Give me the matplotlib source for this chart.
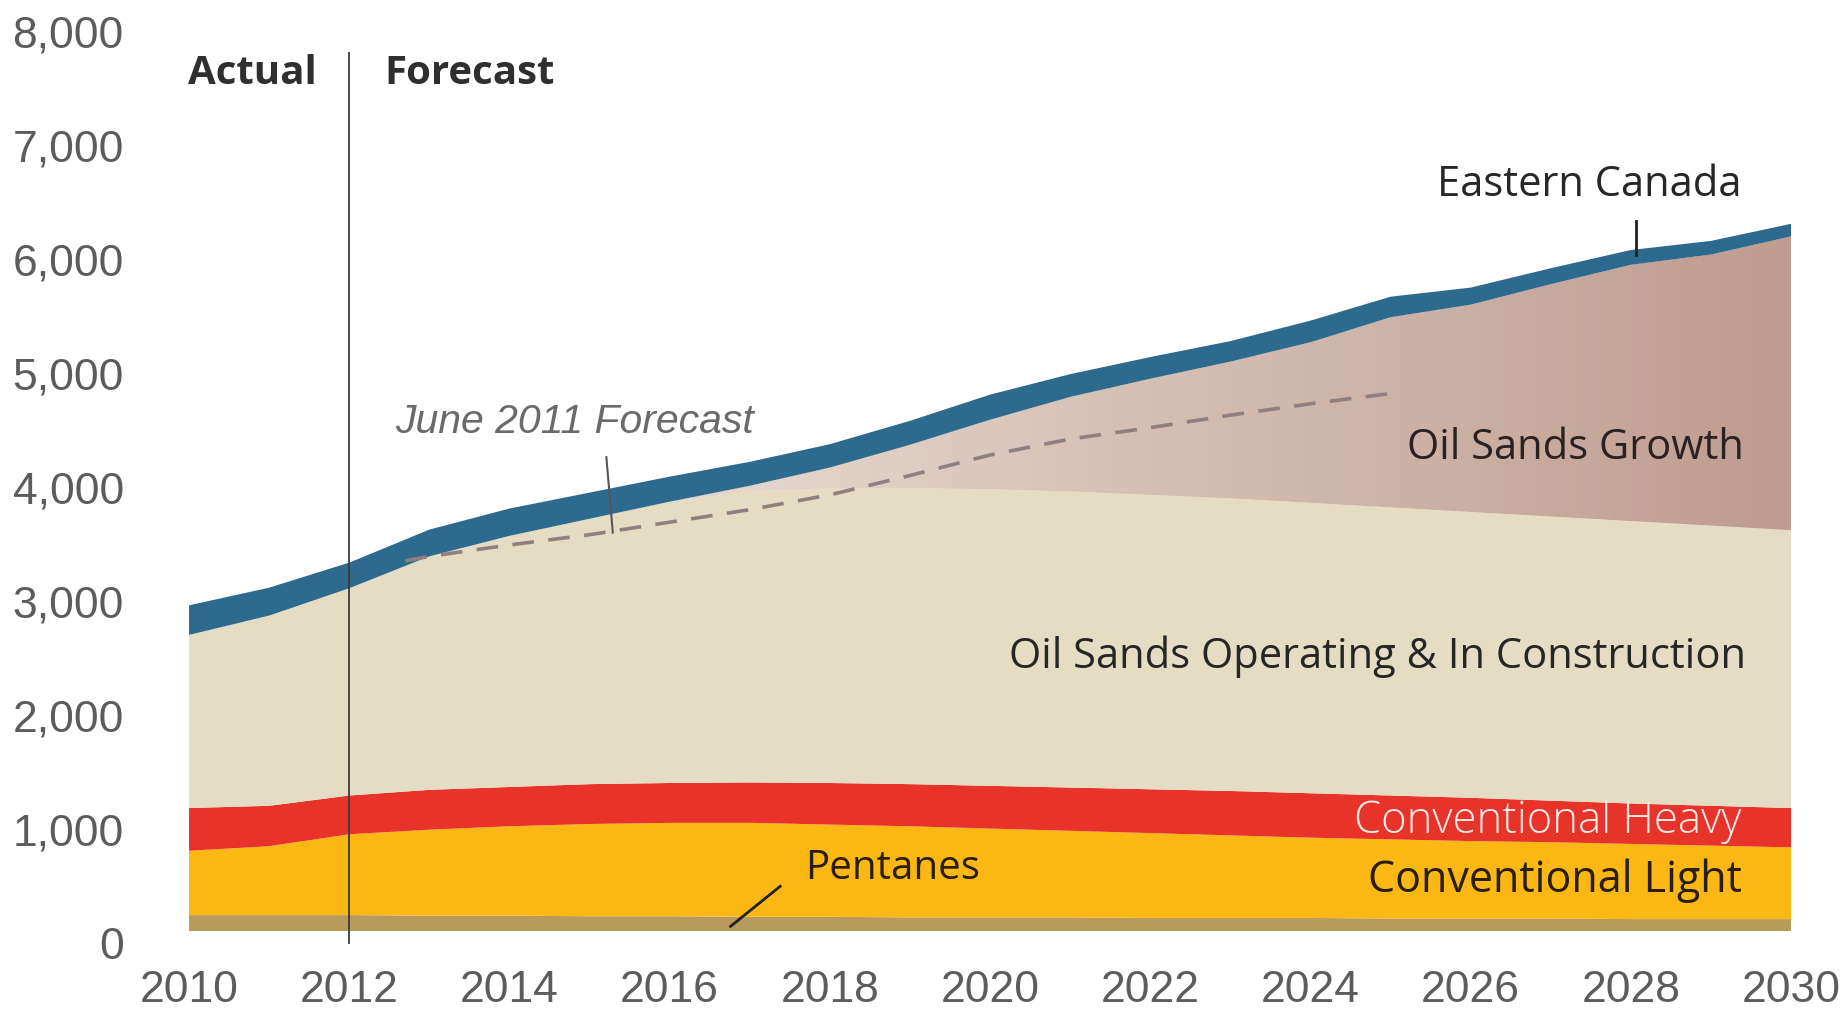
import numpy as np
import matplotlib.pyplot as plt
from matplotlib.transforms import ScaledTranslation
from matplotlib.colors import LinearSegmentedColormap

# Canadian crude oil production forecast (thousand b/d)
years = np.arange(2010, 2031)
pentanes = [140, 140, 140, 135, 135, 130, 130, 125, 125, 120, 120, 120, 115, 115, 115, 110, 110, 110, 105, 105, 105]
conv_light = [565, 605, 710, 755, 785, 810, 820, 825, 810, 800, 780, 760, 745, 725, 705, 695, 680, 670, 660, 645, 630]
conv_heavy = [375, 355, 340, 350, 345, 350, 350, 355, 365, 370, 375, 380, 385, 390, 390, 385, 380, 365, 355, 350, 345]
os_operating = [1520, 1670, 1820, 2050, 2205, 2330, 2470, 2555, 2590, 2600, 2605, 2600, 2585, 2570, 2550, 2530, 2510, 2495, 2480, 2460, 2440]
os_growth = [0, 0, 0, 0, 0, 0, 0, 50, 180, 380, 610, 830, 1020, 1200, 1410, 1670, 1820, 2040, 2250, 2380, 2580]
eastern = [260, 245, 225, 235, 240, 230, 220, 210, 205, 210, 220, 200, 190, 180, 190, 180, 150, 140, 130, 120, 110]

# June 2011 forecast (dashed)
june_years = [2012.7, 2013, 2014, 2015, 2016, 2017, 2018, 2019, 2020, 2021, 2022, 2023, 2024, 2025]
june_vals = [3250, 3290, 3390, 3480, 3590, 3700, 3830, 4000, 4180, 4320, 4420, 4530, 4630, 4720]

xticks = np.arange(2010, 2031, 2)
yticks = np.arange(0, 8001, 1000)

col_pent = '#B79A5C'
col_light = '#FBB714'
col_heavy = '#E8332B'
col_oper = '#E5DDC3'
col_east = '#2E6A8D'

fig = plt.figure(figsize=(18.48, 10.13), dpi=100)
ax = fig.add_axes([0.1023, 0.0809, 0.8669, 0.8994])

polys = ax.stackplot(years, pentanes, conv_light, conv_heavy, os_operating, os_growth, eastern,
                     colors=[col_pent, col_light, col_heavy, col_oper, col_oper, col_east],
                     linewidth=0, zorder=1)

# growth area: left-to-right pink/mauve gradient clipped to its polygon
cmap = LinearSegmentedColormap.from_list('growth', [(0, '#E4DACB'), (0.35, '#E3D6CC'),
                                                   (0.55, '#D8C3B9'), (0.8, '#CAAFA3'), (1, '#BF9C8F')])
grad = ax.imshow(np.linspace(0, 1, 256)[None, :], cmap=cmap, aspect='auto',
                 extent=(2010, 2030, 0, 8000), zorder=2, interpolation='bilinear')
grad.set_clip_path(polys[4].get_paths()[0], transform=ax.transData)
polys[5].set_zorder(3)

ax.plot(june_years, june_vals, color='#8E8080', lw=2.6, dashes=(6, 4), zorder=4)

ax.set_xlim(2010, 2030)
ax.set_ylim(0, 8000)
for s in ax.spines.values():
    s.set_visible(False)
ax.set_xticks(xticks)
ax.set_yticks(yticks)
ax.set_yticklabels(['{:,}'.format(v) for v in yticks])
ax.tick_params(axis='both', length=0, colors='#5c5c5c')
ax.tick_params(axis='y', pad=47)
ax.tick_params(axis='x', pad=28)
for lab in ax.get_xticklabels() + ax.get_yticklabels():
    lab.set_family('Liberation Sans')
    lab.set_fontsize(32)
shift = ScaledTranslation(0, -0.12, fig.dpi_scale_trans)
for lab in ax.get_yticklabels():
    lab.set_transform(lab.get_transform() + shift)

# actual / forecast divider
ax.plot([2012, 2012], [7712, -103], color='#3a3a3a', lw=1.3, clip_on=False, zorder=5)
lab_font = 'Open Sans'
ax.text(2011.6, 7530, 'Actual', ha='right', va='center', fontsize=29, fontweight='bold',
        family=lab_font, color='#2f2f2f')
ax.text(2012.44, 7530, 'Forecast', ha='left', va='center', fontsize=29, fontweight='bold',
        family=lab_font, color='#2f2f2f')

ax.text(2012.57, 4472, 'June 2011 Forecast', ha='left', va='center', fontsize=29.5, style='italic',
        family='Liberation Sans', color='#6a6a6a')
ax.plot([2015.21, 2015.29], [4161, 3499], color='#555555', lw=1.5, zorder=5)

ax.text(2029.38, 6553, 'Eastern Canada', ha='right', va='center', fontsize=30,
        family=lab_font, color='#262626')
ax.plot([2028.06, 2028.06], [6232, 5932], color='#222222', lw=2, zorder=5)

ax.text(2029.41, 4244, 'Oil Sands Growth', ha='right', va='center', fontsize=30,
        family=lab_font, color='#2a2222')
ax.text(2029.44, 2412, 'Oil Sands Operating & In Construction', ha='right', va='center',
        fontsize=30, family=lab_font, color='#262626')
ax.text(2029.38, 963, 'Conventional Heavy', ha='right', va='center', fontsize=31.5,
        fontweight='light', family=lab_font, color='#FBE9E3')
ax.text(2029.38, 445, 'Conventional Light', ha='right', va='center', fontsize=31,
        family=lab_font, color='#2a1e10')
ax.text(2017.69, 549, 'Pentanes', ha='left', va='center', fontsize=29,
        family=lab_font, color='#2a1e10')
ax.plot([2017.38, 2016.76], [393, 41], color='#222222', lw=2, zorder=5)

fig.savefig('out.png', dpi=100, facecolor='white')
